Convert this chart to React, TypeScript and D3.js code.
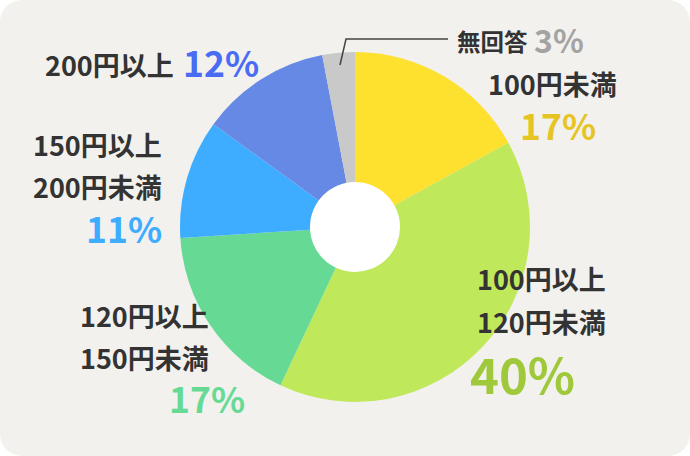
import * as React from "react";
import { pie, arc } from "d3";

// clockwise from 12 o'clock
const categories = ["100円未満", "100円以上120円未満", "120円以上150円未満", "150円以上200円未満", "200円以上", "無回答"];
const shares = [17, 40, 17, 11, 12, 3];
const sliceColors = ["#fee02f", "#c0e85b", "#66da94", "#3eacff", "#6689e6", "#c9c9c9"];
const pctColors = ["#e6c424", "#9fc93b", "#66da94", "#3eacff", "#4a6cf2", "#a3a3a3"];

// label lines for each category (text as shown)
const labelLines = [["100円未満"], ["100円以上", "120円未満"], ["120円以上", "150円未満"], ["150円以上", "200円未満"], ["200円以上"], ["無回答"]];

const W = 690;
const H = 456;
const FONT = "'Noto Sans CJK JP', 'Noto Sans', sans-serif";

// label layout (positions only)
const layout = [
    { lines: [{ x: 488, y: 95 }], pct: { x: 520, y: 140, size: 35.5 }, size: 27 },
    { lines: [{ x: 477, y: 290 }, { x: 477, y: 333 }], pct: { x: 470, y: 394, size: 49 }, size: 27 },
    { lines: [{ x: 80, y: 327 }, { x: 80, y: 369 }], pct: { x: 169, y: 413, size: 35.5 }, size: 27 },
    { lines: [{ x: 33, y: 156 }, { x: 33, y: 198 }], pct: { x: 86, y: 243, size: 35.5 }, size: 27 },
    { lines: [{ x: 45, y: 76 }], pct: { x: 183, y: 77, size: 35.5 }, size: 27 },
    { lines: [{ x: 457, y: 51 }], pct: { x: 534, y: 53, size: 32 }, size: 23.5 },
];

export default function App() {
    const cx = 355;
    const cy = 227;
    const outer = 175;
    const inner = 45;

    const arcs = pie<number>().sort(null).value(d => d)(shares);
    const arcGen = arc<any>().innerRadius(0).outerRadius(outer);

    React.useEffect(() => {
        document.body.style.margin = "0";
    }, []);

    return (
        <svg width={W} height={H} style={{ display: "block" }}>
            <rect x={0} y={0} width={W} height={H} rx={22} fill="#f2f1ee" />
            <g transform={`translate(${cx},${cy})`}>
                {arcs.map((a, i) => (
                    <path key={categories[i]} d={arcGen(a) || ""} fill={sliceColors[i]} />
                ))}
                <circle r={inner} fill="#ffffff" />
            </g>
            {/* leader line for 無回答 */}
            <polyline points="340,65 346,39 448,39" fill="none" stroke="#444" strokeWidth={1.5} />
            {layout.map((l, i) => (
                <g key={"lab" + i} fontFamily={FONT} fontWeight={700}>
                    {labelLines[i].map((t, j) => (
                        <text key={j} x={l.lines[j].x} y={l.lines[j].y} fontSize={l.size} fill="#333333">
                            {t}
                        </text>
                    ))}
                    <text x={l.pct.x} y={l.pct.y} fontSize={l.pct.size} fill={pctColors[i]}>
                        {shares[i]}%
                    </text>
                </g>
            ))}
        </svg>
    );
}
